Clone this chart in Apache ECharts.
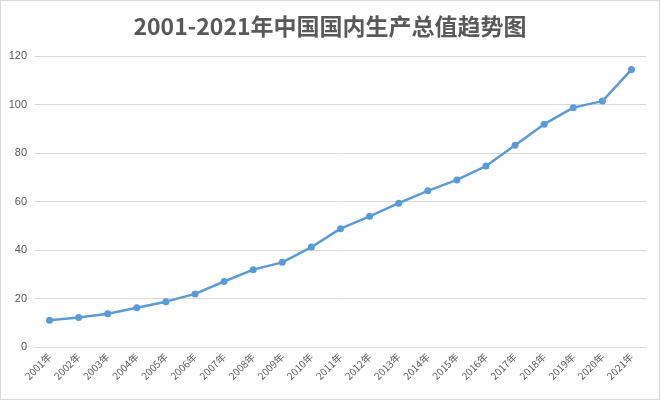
<!DOCTYPE html>
<html>
<head>
<meta charset="utf-8">
<script src="https://cdn.jsdelivr.net/npm/echarts@6/dist/echarts.min.js"></script>
<style>
html,body{margin:0;padding:0;background:#fff;}
#c{width:660px;height:400px;box-sizing:border-box;border:1px solid #d9d9d9;}
</style>
</head>
<body>
<div id="c"></div>
<script>
var years = ['2001年','2002年','2003年','2004年','2005年','2006年','2007年','2008年','2009年','2010年','2011年','2012年','2013年','2014年','2015年','2016年','2017年','2018年','2019年','2020年','2021年'];
var gdp = [11.0,12.2,13.7,16.2,18.7,21.9,27.0,31.9,34.9,41.2,48.8,53.9,59.3,64.4,68.9,74.6,83.2,91.9,98.7,101.4,114.4];
var titleText = '2001-2021年中国国内生产总值趋势图';

var chart = echarts.init(document.getElementById('c'));
chart.setOption({
  animation: false,
  title: {
    text: titleText,
    left: 'center',
    top: 9,
    textStyle: {fontFamily: 'Noto Sans CJK SC', fontSize: 23, fontWeight: 'bold', color: '#595959'}
  },
  grid: {left: 34, right: 13, top: 55, bottom: 52, containLabel: false},
  xAxis: {
    type: 'category',
    data: years,
    boundaryGap: true,
    axisLine: {show: true, lineStyle: {color: '#d9d9d9', width: 1}},
    axisTick: {show: false},
    axisLabel: {rotate: 45, interval: 0, margin: 8, fontSize: 10, color: '#595959', fontFamily: 'Noto Sans CJK SC'}
  },
  yAxis: {
    type: 'value',
    min: 0, max: 120, interval: 20,
    axisLine: {show: false},
    axisTick: {show: false},
    axisLabel: {fontSize: 11, color: '#595959', margin: 8, fontFamily: 'Liberation Sans'},
    splitLine: {lineStyle: {color: '#d9d9d9', width: 1}}
  },
  series: [{
    type: 'line',
    data: gdp,
    symbol: 'circle',
    symbolSize: 7,
    lineStyle: {color: '#5b9bd5', width: 2.5},
    itemStyle: {color: '#5b9bd5'}
  }]
});
</script>
</body>
</html>
